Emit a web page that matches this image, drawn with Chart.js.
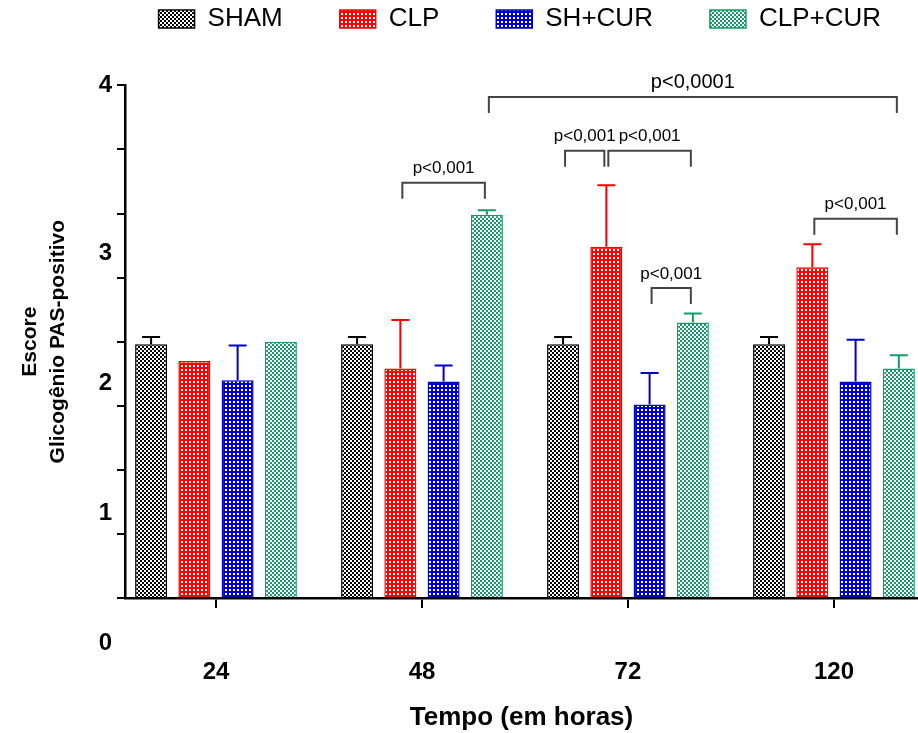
<!DOCTYPE html>
<html>
<head>
<meta charset="utf-8">
<script src="https://cdn.jsdelivr.net/npm/chart.js@4.4.1/dist/chart.umd.min.js"></script>
<style>
  html, body { margin: 0; padding: 0; background: #fff; overflow: hidden; }
  #wrap { position: relative; width: 918px; height: 733px; }
</style>
</head>
<body>
<div id="wrap"><canvas id="chart"></canvas></div>
<script>
// tempo (horas)
const categories = ['24', '48', '72', '120'];
const groups = ['SHAM', 'CLP', 'SH+CUR', 'CLP+CUR'];

// média + desvio (só para cima)
const shamMean = [1.98, 1.98, 1.98, 1.98];
const shamErr = [0.056, 0.056, 0.056, 0.056];
const clpMean = [1.85, 1.79, 2.74, 2.58];
const clpErr = [0, 0.38, 0.48, 0.18];
const shCurMean = [1.70, 1.69, 1.51, 1.69];
const shCurErr = [0.27, 0.125, 0.245, 0.325];
const clpCurMean = [2.00, 2.99, 2.15, 1.79];
const clpCurErr = [0, 0.035, 0.07, 0.105];

const yTickValues = [0, 1, 2, 3, 4];

// comparações: [categoria, grupo] -> [categoria, grupo], altura da barra horizontal (escore)
const brackets = [
  { text: 'p<0,0001', from: [1, 3], to: [3, 3], level: 3.91 },
  { text: 'p<0,001', from: [1, 1], to: [1, 3], level: 3.24 },
  { text: 'p<0,001', from: [2, 0], to: [2, 1], level: 3.49 },
  { text: 'p<0,001', from: [2, 1], to: [2, 3], level: 3.49 },
  { text: 'p<0,001', from: [2, 2], to: [2, 3], level: 2.42 },
  { text: 'p<0,001', from: [3, 1], to: [3, 3], level: 2.96 }
];

const COLORS = ['#000000', '#ff0000', '#0000cc', '#139c6a'];
const FONT = '"Liberation Sans", Arial, sans-serif';

// preenchimento quadriculado; `dense` = mais cor do que branco
function checker(color, dense) {
  const c = document.createElement('canvas');
  c.width = 4; c.height = 4;
  const g = c.getContext('2d');
  if (dense) {
    g.fillStyle = color;
    g.fillRect(0, 0, 4, 4);
    g.fillStyle = '#fff';
    g.fillRect(1, 1, 2, 2);
  } else {
    g.fillStyle = '#fff';
    g.fillRect(0, 0, 4, 4);
    g.fillStyle = color;
    g.fillRect(0, 0, 2, 2);
    g.fillRect(2, 2, 2, 2);
  }
  return g.createPattern(c, 'repeat');
}

const series = [
  { mean: shamMean, err: shamErr, dense: false },
  { mean: clpMean, err: clpErr, dense: true },
  { mean: shCurMean, err: shCurErr, dense: true },
  { mean: clpCurMean, err: clpCurErr, dense: false }
];

// barras de erro (desvio para cima)
const errorBars = {
  id: 'errorBars',
  afterDatasetsDraw(chart) {
    const { ctx, scales: { y } } = chart;
    ctx.save();
    ctx.lineWidth = 2;
    series.forEach((s, di) => {
      ctx.strokeStyle = COLORS[di];
      chart.getDatasetMeta(di).data.forEach((bar, i) => {
        if (!s.err[i]) return;
        const top = y.getPixelForValue(s.mean[i] + s.err[i]);
        ctx.beginPath();
        ctx.moveTo(bar.x, bar.y);
        ctx.lineTo(bar.x, top);
        ctx.moveTo(bar.x - 9, top);
        ctx.lineTo(bar.x + 9, top);
        ctx.stroke();
      });
    });
    ctx.restore();
  }
};

// no original os rótulos 3,2,1,0 ficam uns 40px abaixo dos traços
const yLabels = {
  id: 'yLabels',
  afterDraw(chart) {
    const { ctx, scales: { y } } = chart;
    ctx.save();
    ctx.font = 'bold 24px ' + FONT;
    ctx.fillStyle = '#000';
    ctx.textAlign = 'right';
    ctx.textBaseline = 'middle';
    yTickValues.forEach(v => {
      const drop = v === y.max ? 0 : 40 + (3 - v) * 1.7;
      ctx.fillText(String(v), y.right - 13, y.getPixelForValue(v) + drop);
    });
    ctx.restore();
  }
};

const sigBrackets = {
  id: 'sigBrackets',
  afterDraw(chart) {
    const { ctx, scales: { y } } = chart;
    const barX = ([cat, ds]) => chart.getDatasetMeta(ds).data[cat].x;
    ctx.save();
    ctx.strokeStyle = '#444';
    ctx.lineWidth = 2;
    ctx.fillStyle = '#000';
    ctx.textAlign = 'center';
    ctx.textBaseline = 'middle';
    brackets.forEach(b => {
      const x1 = barX(b.from) + 2, x2 = barX(b.to) - 2;
      const top = y.getPixelForValue(b.level);
      ctx.beginPath();
      ctx.moveTo(x1, top + 16);
      ctx.lineTo(x1, top);
      ctx.lineTo(x2, top);
      ctx.lineTo(x2, top + 16);
      ctx.stroke();
      ctx.font = (b.text.length > 7 ? 20 : 17) + 'px ' + FONT;
      ctx.fillText(b.text, (x1 + x2) / 2, top - 14);
    });
    ctx.restore();
  }
};

Chart.defaults.font.family = FONT;
Chart.defaults.color = '#000';

new Chart(document.getElementById('chart'), {
  type: 'bar',
  data: {
    datasets: series.map((s, di) => ({
      label: groups[di],
      data: s.mean.map((v, i) => ({ x: i, y: v })),
      backgroundColor: checker(COLORS[di], s.dense),
      borderColor: COLORS[di],
      borderWidth: 1.5,
      categoryPercentage: 0.84,
      barPercentage: 0.74
    }))
  },
  options: {
    responsive: true,
    maintainAspectRatio: false,
    animation: false,
    events: [],
    layout: { padding: { top: -51, right: -20, left: 0, bottom: 0 } },
    plugins: {
      legend: {
        position: 'top',
        align: 'end',
        weight: 3000,
        labels: { boxWidth: 36, boxHeight: 18, padding: 57, color: '#000', font: { size: 26 } }
      },
      // só um espaço entre a legenda e o gráfico
      title: { display: true, text: '', padding: { top: 15, bottom: 14 }, font: { size: 12 } },
      tooltip: { enabled: false }
    },
    scales: {
      x: {
        type: 'linear',
        min: -0.4417,
        max: 3.408,
        offset: false,
        afterBuildTicks: s => { s.ticks = categories.map((_, i) => ({ value: i })); },
        afterFit: s => { s.height = 135; },
        border: { color: '#000', width: 2.5 },
        grid: { drawOnChartArea: false, offset: false, color: '#000', lineWidth: 2, tickLength: 10 },
        ticks: { padding: 50, color: '#000', font: { size: 24, weight: 'bold' }, callback: v => categories[v] },
        title: { display: true, text: 'Tempo (em horas)', color: '#000', font: { size: 26, weight: 'bold' }, padding: 0 }
      },
      y: {
        min: 0,
        max: 4,
        afterFit: s => { s.width = 125; },
        border: { color: '#000', width: 2.5 },
        grid: { drawOnChartArea: false, color: '#000', lineWidth: 2, tickLength: 8 },
        ticks: { display: false, stepSize: 0.5 },
        title: {
          display: true,
          text: ['Escore', 'Glicogênio PAS-positivo'],
          color: '#000',
          font: { size: 21, weight: 'bold', lineHeight: 1.35 },
          padding: { top: 16, bottom: 0 }
        }
      }
    }
  },
  plugins: [errorBars, yLabels, sigBrackets]
});
</script>
</body>
</html>
